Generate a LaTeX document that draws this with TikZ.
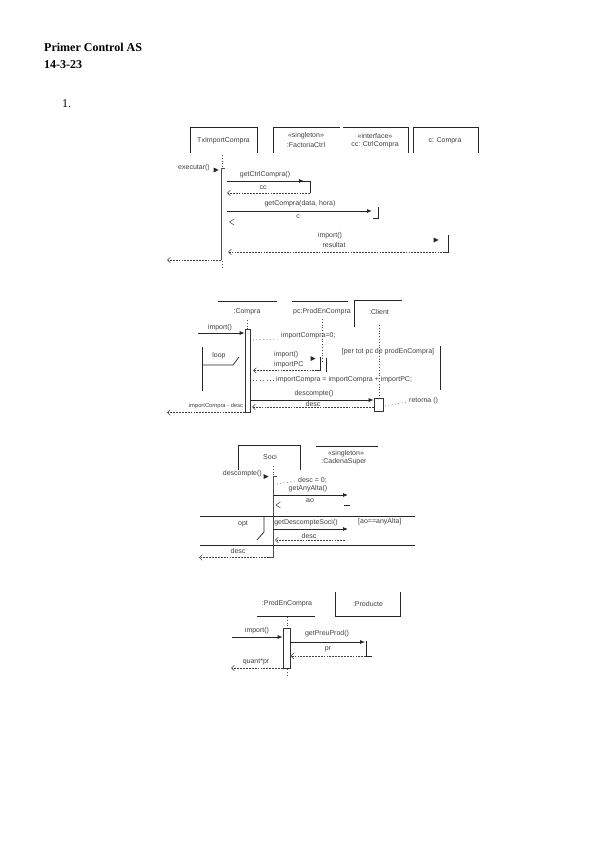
\documentclass[tikz,border=0pt]{standalone}
\usepackage{fontspec}
\setmainfont{Liberation Serif}
\newfontfamily\labfont{Liberation Sans}
\usetikzlibrary{arrows.meta}
\begin{document}
\begin{tikzpicture}[x=1pt,y=-1pt,
  lbl/.style={font=\labfont\fontsize{7}{7.5}\selectfont, inner sep=0pt, text=black!75},
  msg/.style={line width=0.8pt, draw=black!85, -{Latex[length=5pt,width=4pt]}},
  ret/.style={line width=0.5pt, draw=black!75, dash pattern=on 1.8pt off 1.1pt, -{Straight Barb[length=3pt,width=5.5pt]}},
  life/.style={line width=0.6pt, draw=black!70, dash pattern=on 0.8pt off 2pt},
  note/.style={line width=0.6pt, draw=black!60, dash pattern=on 0.8pt off 2.6pt},
  act/.style={line width=1pt, draw=black!70},
  frame/.style={line width=0.7pt, draw=black!85},
  head/.style={fill=black!85},
  ttl/.style={font=\bfseries\fontsize{12}{13}\selectfont, inner sep=0pt, anchor=base west},
]
\useasboundingbox (0,0) rectangle (600,848);

% ---------- title ----------
\node[ttl] (t1) at (44,52) {Primer Control AS};
\node[ttl] (t2) at (44,68.5) {14-3-23};
\node[font=\fontsize{12}{13}\selectfont, inner sep=0pt, anchor=base west] (n1) at (62,108) {1.};

% ================= Diagram 1 =================
\draw[frame] (190,153) -- (190,127) -- (257,127) -- (257,153);
\node[lbl] (b1) at (223.5,141) {TxImportCompra};
\draw[frame] (273,153) -- (273,127) -- (340,127);
\node[lbl] (b2a) at (306,136) {«singleton»};
\node[lbl] (b2b) at (306,145) {:FactoriaCtrl};
\draw[frame] (343,127) -- (408,127) -- (408,153);
\node[lbl] (b3a) at (375,136) {«interface»};
\node[lbl] (b3b) at (375,145) {cc: CtrlCompra};
\draw[frame] (413,153) -- (413,127) -- (478,127) -- (478,153);
\node[lbl] (b4) at (445,141) {c: Compra};

\coordinate (l1a) at (222,155); \coordinate (l1b) at (222,168);
\coordinate (a1s) at (221,168); \coordinate (a1e) at (221,260);
\coordinate (l1c) at (222,261); \coordinate (l1d) at (222,269);
\draw[life] (l1a) -- (l1b);
\draw[act] (a1s) -- (a1e);
\draw[act] (a1s) -- (225,168);
\draw[life] (l1c) -- (l1d);

\node[lbl] (ex) at (194,168) {executar()};
\fill[head] (213.5,167.5) -- (218.5,170) -- (213.5,172.5) -- cycle;

% getCtrlCompra
\coordinate (g1a) at (227,181); \coordinate (g1b) at (304,181);
\coordinate (g1c) at (310,181); \coordinate (g1d) at (310,193);
\coordinate (g1e) at (227,193);
\node[lbl] (lg1) at (265,174.5) {getCtrlCompra()};
\draw[msg] (g1a) -- (g1b);
\draw[frame] (300,181) -- (g1c) -- (g1d);
\node[lbl] (lcc) at (263,187.5) {cc};
\draw[ret] (g1d) -- (g1e);

% getCompra
\coordinate (g2a) at (227,211); \coordinate (g2b) at (372,211);
\node[lbl] (lg2) at (300,203.5) {getCompra(data, hora)};
\draw[msg] (g2a) -- (g2b);
\draw[frame] (378,207) -- (378,218) -- (373,218);
\node[lbl] (lc) at (298,216.5) {c};
\draw[line width=0.5pt, black!75] (234,219) -- (229.5,222) -- (234,225);

% import
\node[lbl] (li1) at (330,236) {import()};
\node[lbl] (lr1) at (334,244.5) {resultat};
\fill[head] (433.5,237.5) -- (438.5,240) -- (433.5,242.5) -- cycle;
\coordinate (i1a) at (448,252); \coordinate (i1b) at (228,252);
\draw[frame] (448,235) -- (i1a) -- (443,252);
\draw[ret] (i1a) -- (i1b);

% return executar
\coordinate (r1a) at (221,260); \coordinate (r1b) at (167,260);
\draw[ret] (r1a) -- (r1b);

% ================= Diagram 2 =================
\draw[frame] (218,301) -- (277,301);
\node[lbl] (c2) at (247,312) {:Compra};
\draw[frame] (292,301) -- (348,301);
\node[lbl] (pc2) at (322,312) {pc:ProdEnCompra};
\draw[frame] (354,327) -- (354,300) -- (402,300);
\node[lbl] (cl2) at (379,312) {:Client};

\draw[life] (247,320) -- (247,329);
\node[draw=black!80, line width=0.7pt, fill=white, inner sep=0pt, minimum width=5pt, minimum height=83pt, anchor=north] (act2) at (247.5,329) {};

\coordinate (m2a) at (198,333);
\node[lbl] (li2) at (220,327.5) {import()};
\draw[msg] (m2a) -- (act2.west |- m2a);

\coordinate (n2a) at (253,340); \coordinate (n2b) at (279,339);
\draw[note] (n2a) -- (n2b);
\node[lbl, anchor=west] (ln2) at (281,336) {importCompra=0;};

\draw[life] (322,319) -- (322,362);

% loop frame
\draw[frame] (202,347) -- (202,391);
\draw[frame] (202,365) -- (233,365) -- (239,357);
\node[lbl] (loop) at (219,356) {loop};
\draw[frame] (440,346) -- (440,390);
\node[lbl] (gd2) at (388,351.5) {[per tot pc de prodEnCompra]};

\node[lbl, anchor=west] (li3) at (274,354.5) {import()};
\node[lbl, anchor=west] (lpc) at (274,365) {importPC};
\fill[head] (310.5,356) -- (315.5,358.5) -- (310.5,361) -- cycle;
\coordinate (p2a) at (320,370.5); \coordinate (p2b) at (253,370.5);
\draw[frame] (320,357) -- (p2a) -- (316,370.5);
\draw[frame] (326,358) -- (326,372);
\draw[ret] (p2a) -- (p2b);

\coordinate (n3a) at (253,380); \coordinate (n3b) at (274,380);
\draw[note] (n3a) -- (n3b);
\node[lbl, anchor=west] (ln3) at (276,380) {importCompra = importCompra + importPC;};

% descompte
\draw[life] (379,325) -- (379,398);
\node[draw=black!80, line width=0.7pt, fill=white, inner sep=0pt, minimum width=9pt, minimum height=13pt, anchor=north] (act2c) at (378.5,398) {};
\coordinate (d2a) at (250,400);
\node[lbl] (ld2) at (314,394) {descompte()};
\draw[msg] (d2a) -- (act2c.west |- d2a);
\node[lbl] (lds2) at (313,403.5) {desc};
\coordinate (d2b) at (252,407);
\draw[ret] (act2c.west |- d2b) -- (d2b);
\coordinate (n4a) at (385,406); \coordinate (n4b) at (407,402);
\draw[note] (n4a) -- (n4b);
\node[lbl, anchor=west] (ln4) at (409,401) {retorna ()};

\node[lbl, font=\labfont\fontsize{5.8}{6}\selectfont] (lic) at (216,406) {importCompra - desc};
\coordinate (r2b) at (167,412.5);
\draw[ret] (act2.west |- r2b) -- (r2b);

% ================= Diagram 3 =================
\draw[frame] (238,470) -- (238,445) -- (300,445) -- (300,470);
\node[lbl] (soci) at (270,457) {Soci};
\draw[frame] (316,446) -- (378,446);
\node[lbl] (cs1) at (346,453.5) {«singleton»};
\node[lbl] (cs2) at (344,461.5) {:CadenaSuper};

\draw[life] (273,466) -- (273,476);
\coordinate (a3s) at (273,476.5); \coordinate (a3e) at (273,557.5);
\draw[act] (a3s) -- (a3e);
\draw[act] (a3s) -- (277,476.5);
\node[lbl, anchor=east] (ld3) at (262,474) {descompte()};
\fill[head] (263.5,474) -- (268.5,476.5) -- (263.5,479) -- cycle;

\coordinate (n5a) at (277,484); \coordinate (n5b) at (296,481);
\draw[note] (n5a) -- (n5b);
\node[lbl, anchor=west] (ln5) at (298,480) {desc = 0;};

\node[lbl] (lga) at (308,489) {getAnyAlta()};
\coordinate (g3a) at (273,495); \coordinate (g3b) at (348,495);
\draw[msg] (g3a) -- (g3b);
\draw[frame] (344,505) -- (350,505);
\node[lbl] (lao) at (310,501) {ao};
\draw[line width=0.5pt, black!75] (280.5,502) -- (276,505) -- (280.5,508);

% opt frame
\draw[frame] (200,516) -- (415,516);
\draw[frame] (200,545) -- (415,545);
\node[lbl] (opt) at (243,524) {opt};
\draw[frame] (264,516) -- (264,532) -- (257,540);
\node[lbl, anchor=west] (gd3) at (358,521.5) {[ao==anyAlta]};

\node[lbl] (lgd) at (306,522.5) {getDescompteSoci()};
\coordinate (g4a) at (273,529); \coordinate (g4b) at (348,529);
\draw[msg] (g4a) -- (g4b);
\node[lbl] (lds3) at (309,535.5) {desc};
\coordinate (g4c) at (345,540); \coordinate (g4d) at (275,540);
\draw[ret] (g4c) -- (g4d);

\node[lbl] (lds4) at (238,550.5) {desc};
\coordinate (r3a) at (269,557.5); \coordinate (r3b) at (199,557.5);
\draw[ret] (r3a) -- (r3b);
\draw[act] (a3e) -- (r3a);

% ================= Diagram 4 =================
\draw[frame] (257,616) -- (315,616);
\node[lbl] (pe4) at (287,604) {:ProdEnCompra};
\draw[frame] (335,592) -- (335,616) -- (400,616) -- (400,592);
\node[lbl] (pr4) at (368,604) {:Producte};

\draw[life] (287,617) -- (287,628);
\node[draw=black!80, line width=0.7pt, fill=white, inner sep=0pt, minimum width=7pt, minimum height=40pt, anchor=north] (act4) at (286.5,628) {};
\draw[life] (287,669) -- (287,676);

\node[lbl] (li4) at (257,631) {import()};
\coordinate (m4a) at (232,637);
\draw[msg] (m4a) -- (act4.west |- m4a);

\node[lbl] (lgp) at (327,634) {getPreuProd()};
\coordinate (m4b) at (365,642);
\draw[msg] (act4.east |- m4b) -- (m4b);
\coordinate (m4c) at (366,656);
\draw[frame] (366,641) -- (m4c) -- (372,656);
\node[lbl] (lpr) at (328,649.5) {pr};
\draw[ret] (m4c) -- (act4.east |- m4c);

\node[lbl] (lq) at (256,662) {quant*pr};
\coordinate (r4b) at (231,668);
\draw[ret] (act4.west |- r4b) -- (r4b);

\end{tikzpicture}
\end{document}
